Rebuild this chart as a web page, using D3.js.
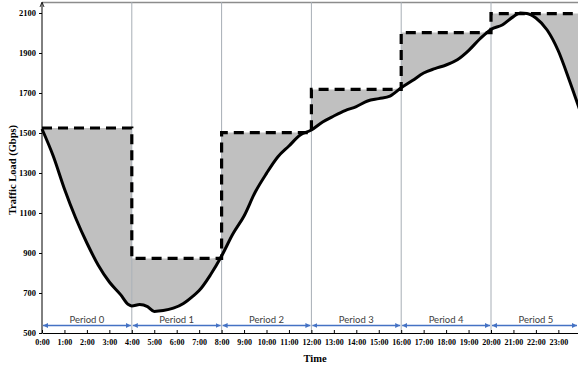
<!DOCTYPE html>
<html>
<head>
<meta charset="utf-8">
<script src="https://cdn.jsdelivr.net/npm/d3@7"></script>
<style>
  body { margin: 0; background: #fff; }
  svg { display: block; }
</style>
</head>
<body>
<script>
// traffic load curve (hour of day -> Gbps)
var hours = [0, 0.5, 1, 1.5, 2, 2.5, 3, 3.5, 3.85, 4, 4.35, 4.7, 5, 5.4, 5.85, 6.3, 6.7, 7,
	7.5, 8, 8.5, 9, 9.5, 10, 10.5, 11, 11.5, 12, 12.5, 13, 13.5, 14, 14.5, 15, 15.5, 16, 16.5, 17,
	17.5, 18, 18.5, 19, 19.5, 20, 20.5, 21, 21.3, 21.6, 22, 22.5, 23, 23.5, 24];
var load = [1520, 1385, 1220, 1075, 950, 840, 755, 692, 642, 635, 642, 632, 608, 612, 624, 648, 682, 712,
	790, 885, 995, 1085, 1205, 1298, 1380, 1435, 1490, 1515, 1555, 1585, 1612, 1632, 1660, 1672, 1684, 1726, 1762, 1800,
	1822, 1840, 1866, 1912, 1970, 2018, 2040, 2082, 2100, 2098, 2075, 2015, 1910, 1760, 1600];

// provisioned level per period (dashed line)
var periodNames = ["Period 0", "Period 1", "Period 2", "Period 3", "Period 4", "Period 5"];
var periodStart = [0, 4, 8, 12, 16, 20];
var periodEnd = [4, 8, 12, 16, 20, 24];
var periodPeak = [1525, 873, 1502, 1718, 2002, 2097];

var yTicks = [500, 700, 900, 1100, 1300, 1500, 1700, 1900, 2100];
var xTicks = d3.range(0, 24);
var xTickLabels = xTicks.map(function(h){ return h + ":00"; });

var width = 578, height = 369;

var x = d3.scaleLinear()
	.domain([0, 24])
	.range([42, 580.8]);

var y = d3.scaleLinear()
	.domain([500, 2100])
	.range([333, 13]);

var svg = d3.select('body').append('svg')
	.attr('width', width)
	.attr('height', height);

var defs = svg.append('defs');
function arrowMarker(id, orient) {
	defs.append('marker')
		.attr('id', id)
		.attr('viewBox', '0 0 10 10')
		.attr('refX', 10).attr('refY', 5)
		.attr('markerWidth', 5).attr('markerHeight', 5)
		.attr('markerUnits', 'userSpaceOnUse')
		.attr('orient', orient)
		.append('path')
			.attr('d', 'M0,0 L10,5 L0,10 Z')
			.style('fill', '#4472c4');
}
arrowMarker('arrowEnd', 'auto');
arrowMarker('arrowStart', 'auto-start-reverse');

var pts = hours.map(function(h, i){ return {h: h, v: load[i]}; });

// linear interpolation of the curve, only used to close the shaded areas at period edges
function loadAt(h) {
	var i = d3.bisectRight(hours, h);
	if (i <= 0) return load[0];
	if (i >= hours.length) return load[load.length - 1];
	var t = (h - hours[i-1]) / (hours[i] - hours[i-1]);
	return load[i-1] + t * (load[i] - load[i-1]);
}

// shaded gap between the curve and the provisioned level
var area = d3.area()
	.x(function(d){ return x(d.h); })
	.y0(function(d){ return y(d.v); })
	.y1(function(d){ return y(Math.max(d.v, d.p)); })
	.curve(d3.curveMonotoneX);

periodNames.forEach(function(name, i){
	var s = periodStart[i], e = periodEnd[i];
	var seg = [{h: s, v: loadAt(s)}];
	pts.forEach(function(d){ if (d.h > s && d.h < e) seg.push(d); });
	seg.push({h: e, v: loadAt(e)});
	seg = seg.map(function(d){ return {h: d.h, v: d.v, p: periodPeak[i]}; });
	svg.append('path')
		.datum(seg)
		.attr('d', area)
		.style('fill', '#c0c0c0');
});

// top border
svg.append('line')
	.attr('x1', x(0)).attr('x2', width)
	.attr('y1', 2.5).attr('y2', 2.5)
	.style('stroke', '#8c8c8c')
	.style('stroke-width', 1.5);

// period separators
svg.selectAll('.sep')
	.data(periodStart.slice(1))
	.enter().append('line')
		.attr('class', 'sep')
		.attr('x1', function(d){ return x(d); })
		.attr('x2', function(d){ return x(d); })
		.attr('y1', 2).attr('y2', y(500))
		.style('stroke', '#a7aeb6')
		.style('stroke-width', 1);

// dashed provisioned level
var stepPts = [];
periodPeak.forEach(function(p, i){
	stepPts.push([periodStart[i], p]);
	stepPts.push([periodEnd[i], p]);
});
svg.append('path')
	.datum(stepPts)
	.attr('d', d3.line()
		.x(function(d){ return x(d[0]); })
		.y(function(d){ return y(d[1]); }))
	.style('fill', 'none')
	.style('stroke', '#000')
	.style('stroke-width', 3.2)
	.style('stroke-dasharray', '10,6');

// traffic curve
svg.append('path')
	.datum(pts)
	.attr('d', d3.line()
		.x(function(d){ return x(d.h); })
		.y(function(d){ return y(d.v); })
		.curve(d3.curveMonotoneX))
	.style('fill', 'none')
	.style('stroke', '#000')
	.style('stroke-width', 3)
	.style('stroke-linejoin', 'round');

// period arrows + labels
var per = svg.selectAll('.period')
	.data(periodNames)
	.enter().append('g')
		.attr('class', 'period');
per.append('line')
	.attr('x1', function(d, i){ return x(periodStart[i]) + 1; })
	.attr('x2', function(d, i){ return Math.min(x(periodEnd[i]) - 1, width - 1); })
	.attr('y1', 325.5).attr('y2', 325.5)
	.attr('marker-start', 'url(#arrowStart)')
	.attr('marker-end', 'url(#arrowEnd)')
	.style('stroke', '#4472c4')
	.style('stroke-width', 1.3);
per.append('text')
	.attr('x', function(d, i){ return x((periodStart[i] + periodEnd[i]) / 2); })
	.attr('y', 322.5)
	.attr('text-anchor', 'middle')
	.style('font-family', 'Lato, "Open Sans", sans-serif')
	.style('font-size', '9.5px')
	.style('fill', '#404040')
	.text(function(d){ return d; });

// axes
var yAxis = svg.append('g')
	.attr('transform', 'translate(' + x(0) + ',0)')
	.call(d3.axisLeft(y)
		.tickValues(yTicks)
		.tickSizeInner(3)
		.tickSizeOuter(0)
		.tickPadding(3)
		.tickFormat(d3.format('d')));
yAxis.select('.domain').attr('d', 'M0,' + y(500) + 'V3');

var xAxis = svg.append('g')
	.attr('transform', 'translate(0,' + y(500) + ')')
	.call(d3.axisBottom(x)
		.tickValues(xTicks)
		.tickSizeInner(-3)
		.tickSizeOuter(0)
		.tickPadding(6)
		.tickFormat(function(d, i){ return xTickLabels[i]; }));

svg.selectAll('.tick text')
	.style('font-family', '"Liberation Serif", "Times New Roman", serif')
	.style('font-weight', 'bold')
	.style('font-size', '8px')
	.style('fill', '#000');
yAxis.selectAll('.tick text').style('font-size', '8.5px');

// y axis arrow tip
svg.append('path')
	.attr('d', 'M' + (x(0) - 2) + ',7 L' + x(0) + ',2 L' + (x(0) + 2) + ',7')
	.style('fill', 'none')
	.style('stroke', '#000')
	.style('stroke-width', 0.8);

// titles
svg.append('text')
	.attr('x', 315).attr('y', 362)
	.attr('text-anchor', 'middle')
	.style('font-family', '"Liberation Serif", "Times New Roman", serif')
	.style('font-weight', 'bold')
	.style('font-size', '10.5px')
	.text('Time');

svg.append('text')
	.attr('transform', 'translate(16,170) rotate(-90)')
	.attr('text-anchor', 'middle')
	.style('font-family', '"Liberation Serif", "Times New Roman", serif')
	.style('font-weight', 'bold')
	.style('font-size', '10.5px')
	.text('Traffic Load (Gbps)');
</script>
</body>
</html>
